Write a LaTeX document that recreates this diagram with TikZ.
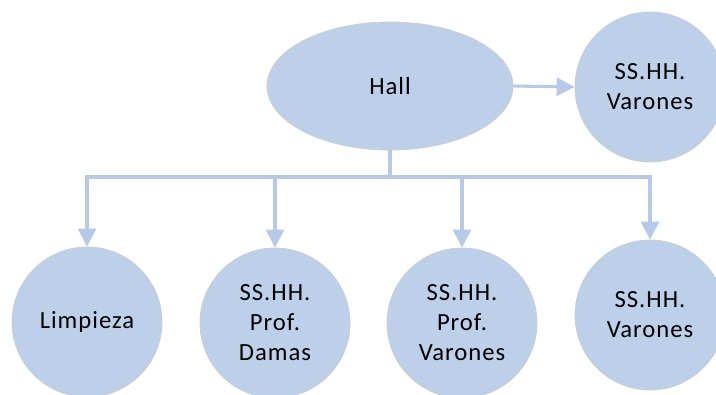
\documentclass[tikz,border=0pt]{standalone}
\usepackage{fontspec}
\setmainfont[LetterSpace=4]{Carlito}
\usetikzlibrary{arrows.meta,shapes.geometric}
\definecolor{nodefill}{RGB}{189,208,233}
\definecolor{nodeline}{RGB}{205,205,205}
\definecolor{linkcol}{RGB}{182,202,232}
\tikzset{
  blob/.style={circle,fill=nodefill,draw=nodeline,line width=0.6pt,minimum size=112.5pt,inner sep=0pt,align=center,font=\fontsize{18.5}{22.5}\selectfont},
  hallbox/.style={ellipse,fill=nodefill,draw=nodeline,line width=0.6pt,minimum width=184.5pt,minimum height=96pt,inner sep=0pt,font=\fontsize{18.5}{22.5}\selectfont},
  link/.style={draw=linkcol,line width=2.3pt},
  linkarrow/.style={link,-{Triangle[length=13.5pt,width=13.5pt]}},
}
\begin{document}
\begin{tikzpicture}[x=0.75pt,y=-0.75pt]
\useasboundingbox (0,0) rectangle (716,394);
\clip (0,0) rectangle (716,394);
\node[hallbox] (hall) at (390,86) {Hall};
\node[blob] (top) at (650,87) {SS.HH.\\Varones};
\node[blob] (c1) at (87,322) {Limpieza};
\node[blob] (c2) at (275,323) {SS.HH.\\Prof.\\Damas};
\node[blob] (c3) at (462,323) {SS.HH.\\Prof.\\Varones};
\node[blob] (c4) at (650,315) {SS.HH.\\Varones};
\coordinate (bus) at (390,177);
\draw[linkarrow] (hall.east) -- (top.west);
\draw[link] (hall.south) -- (bus);
\draw[linkarrow] (bus) -| (c1.north);
\draw[linkarrow] (bus) -| (c2.north);
\draw[linkarrow] (bus) -| (c3.north);
\draw[linkarrow] (bus) -| (c4.north);
\end{tikzpicture}
\end{document}
